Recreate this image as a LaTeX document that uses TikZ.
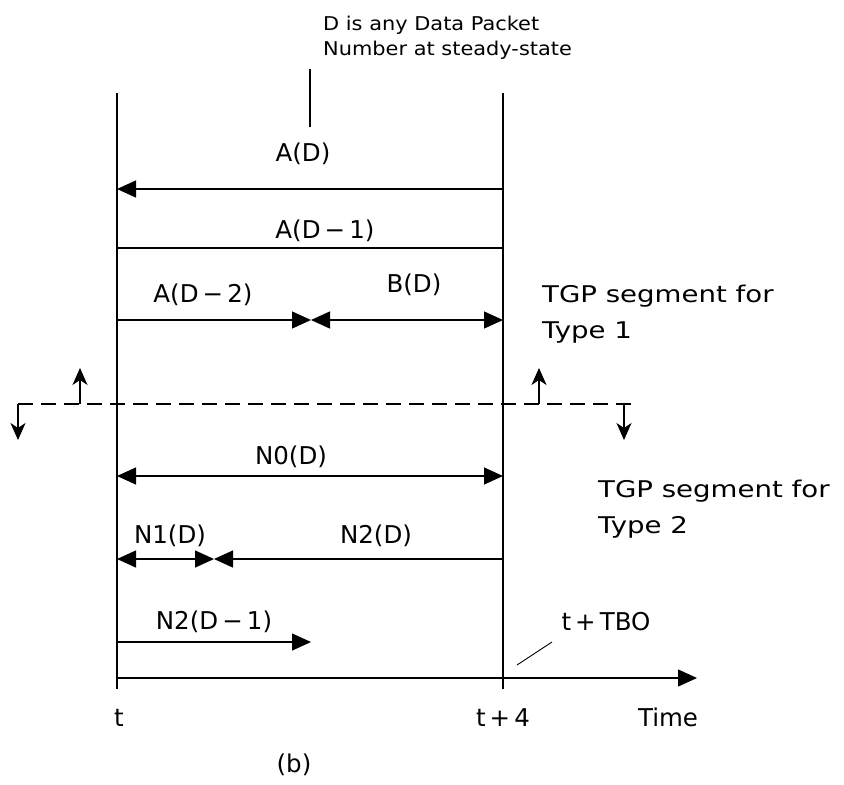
\documentclass[tikz,border=0pt]{standalone}
\usepackage{fontspec}
\setmainfont{DejaVu Sans}
\newfontfamily\notefont{DejaVu Sans}[FakeStretch=1.2]
\newfontfamily\topfont{DejaVu Sans}[FakeStretch=1.1]
\usetikzlibrary{arrows.meta}
\tikzset{
  tri/.tip={Triangle[length=19pt,width=17pt]},
  sm/.tip={Stealth[length=17pt,width=15pt,inset=5pt]}
}
\begin{document}
\begin{tikzpicture}[x=1pt,y=-1pt,
  ln/.style={line width=1.3pt},
  lab/.style={font=\fontsize{24.5}{28}\selectfont, inner sep=0pt},
  note/.style={font=\notefont\fontsize{23}{36}\selectfont, inner sep=0pt, align=left, anchor=base west},
  dsh/.style={line width=1.1pt, dash pattern=on 15pt off 8pt}]
\useasboundingbox (0,0) rectangle (844,785);
% verticals
\coordinate (Lt) at (117,93);  \coordinate (Lb) at (117,689);
\coordinate (Rt) at (503,93);  \coordinate (Rb) at (503,689);
\draw[ln] (Lt) -- (Lb);
\draw[ln] (Rt) -- (Rb);
% top note
\node[note, font=\topfont\fontsize{19}{25}\selectfont] (top) at (323,55) {D is any Data Packet\\Number at steady-state};
\coordinate (p1) at (310,69); \coordinate (p2) at (310,127);
\draw[ln] (p1) -- (p2);
% A(D)
\node[lab] (aD) at (303,154) {A(D)};
\coordinate (aDl) at (117,189); \coordinate (aDr) at (503,189);
\draw[ln,-{tri}] (aDr) -- (aDl);
% A(D-1)
\node[lab] (aD1) at (325,231) {A(D\,\textminus\,1)};
\coordinate (aD1l) at (117,248); \coordinate (aD1r) at (503,248);
\draw[ln] (aD1l) -- (aD1r);
% A(D-2), B(D)
\node[lab] (aD2) at (203,295) {A(D\,\textminus\,2)};
\node[lab] (bD) at (414,285) {B(D)};
\coordinate (r3l) at (117,320); \coordinate (r3m) at (311,320); \coordinate (r3r) at (503,320);
\draw[ln,-{tri}] (r3l) -- (r3m);
\draw[ln,{tri}-{tri}] (r3m) -- (r3r);
\node[note] (tgp1) at (542,338) {TGP segment for\\Type 1};
% dashed separator
\coordinate (dL) at (18,404); \coordinate (dR) at (635,404);
\draw[dsh] (dL) -- (dR);
\coordinate (d1) at (18,440);
\draw[line width=1.1pt,-{sm}] (dL) -- (d1);
\coordinate (u1a) at (80,404); \coordinate (u1b) at (80,368);
\draw[line width=1.1pt,-{sm}] (u1a) -- (u1b);
\coordinate (u2a) at (539,404); \coordinate (u2b) at (539,368);
\draw[line width=1.1pt,-{sm}] (u2a) -- (u2b);
\coordinate (d2a) at (624,404); \coordinate (d2b) at (624,440);
\draw[line width=1.1pt,-{sm}] (d2a) -- (d2b);
% N0(D)
\node[lab] (n0) at (291,457) {N0(D)};
\coordinate (n0l) at (117,476); \coordinate (n0r) at (503,476);
\draw[ln,{tri}-{tri}] (n0l) -- (n0r);
\node[note] (tgp2) at (598,533) {TGP segment for\\Type 2};
% N1(D), N2(D)
\node[lab] (n1) at (170,536) {N1(D)};
\node[lab] (n2) at (376,536) {N2(D)};
\coordinate (r5l) at (117,559); \coordinate (r5m) at (214,559); \coordinate (r5r) at (503,559);
\draw[ln,{tri}-{tri}] (r5l) -- (r5m);
\draw[ln,-{tri}] (r5r) -- (r5m);
% N2(D-1)
\node[lab] (n21) at (214,622) {N2(D\,\textminus\,1)};
\coordinate (r6l) at (117,642); \coordinate (r6r) at (311,642);
\draw[ln,-{tri}] (r6l) -- (r6r);
% time axis
\coordinate (ax0) at (117,678); \coordinate (ax1) at (697,678);
\draw[ln,-{tri}] (ax0) -- (ax1);
\node[lab, anchor=base] (tbo) at (606,630) {t\,+\,TBO};
\coordinate (q1) at (517,665); \coordinate (q2) at (552,642);
\draw[line width=0.9pt] (q1) -- (q2);
\node[lab, anchor=base] (t0) at (119,726) {t};
\node[lab, anchor=base] (t4) at (503,726) {t\,+\,4};
\node[lab, anchor=base] (time) at (668,726) {Time};
\node[lab] (b) at (294,765) {(b)};
\end{tikzpicture}
\end{document}
